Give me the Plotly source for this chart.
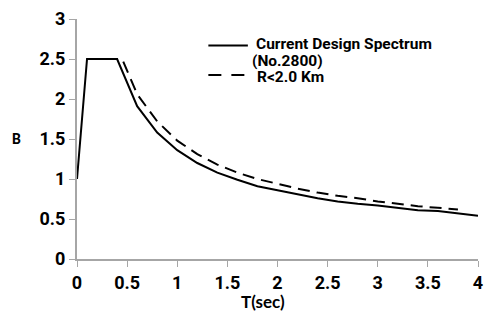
import plotly.graph_objects as go

# Current Design Spectrum (No.2800)
t_design = [0, 0.1, 0.4, 0.6, 0.8, 1.0, 1.2, 1.4, 1.6, 1.8, 2.0, 2.2, 2.4, 2.6, 2.8, 3.0, 3.2, 3.4, 3.6, 3.8, 4.0]
b_design = [1.0, 2.5, 2.5, 1.91, 1.58, 1.36, 1.20, 1.08, 0.99, 0.91, 0.86, 0.81, 0.76, 0.72, 0.69, 0.67, 0.64, 0.61, 0.60, 0.57, 0.54]

# R<2.0 Km
t_near = [0.1, 0.45, 0.6, 0.8, 1.0, 1.2, 1.4, 1.6, 1.8, 2.0, 2.2, 2.4, 2.6, 2.8, 3.0, 3.2, 3.4, 3.6, 3.8]
b_near = [2.5, 2.5, 2.06, 1.72, 1.48, 1.31, 1.18, 1.08, 1.0, 0.94, 0.88, 0.83, 0.79, 0.76, 0.72, 0.69, 0.66, 0.64, 0.62]

x_ticks = [0, 0.5, 1, 1.5, 2, 2.5, 3, 3.5, 4]
x_labels = ["0", "0.5", "1", "1.5", "2", "2.5", "3", "3.5", "4"]
y_ticks = [0, 0.5, 1, 1.5, 2, 2.5, 3]
y_labels = ["0", "0.5", "1", "1.5", "2", "2.5", "3"]

legend_names = ["Current Design Spectrum", "(No.2800)", "R<2.0 Km"]

fig = go.Figure()
fig.add_trace(go.Scatter(x=t_design, y=b_design, mode="lines",
                         name=legend_names[0] + " " + legend_names[1], showlegend=False,
                         line=dict(color="black", width=2)))
fig.add_trace(go.Scatter(x=t_near, y=b_near, mode="lines",
                         name=legend_names[2], showlegend=False,
                         line=dict(color="black", width=2, dash="12px,7px")))

axis_common = dict(showgrid=False, zeroline=False, showline=True, linecolor="#a6a6a6",
                   linewidth=2, ticks="outside", tickcolor="#a6a6a6", ticklen=6, tickwidth=1)

tick_font = dict(family="Roboto", size=18, color="black", weight=700)
fig.update_xaxes(range=[0, 4], tickvals=x_ticks, ticktext=x_labels,
                 ticklabeloverflow="allow", tickfont=tick_font, **axis_common)
fig.update_yaxes(range=[0, 3], tickvals=y_ticks, ticktext=y_labels,
                 tickfont=tick_font, **axis_common)

def px_x(p):
    return (p - 77) / 406.0

def px_y(p):
    return (259 - p) / 240.0

# axis titles
fig.add_annotation(text="B", xref="paper", yref="paper", x=px_x(16), y=px_y(139),
                   xanchor="center", yanchor="middle", showarrow=False,
                   font=dict(family="Roboto", size=14, color="black", weight=700))
fig.add_annotation(text="T(sec)", xref="paper", yref="paper", x=px_x(265), y=px_y(301),
                   xanchor="center", yanchor="middle", showarrow=False,
                   font=dict(family="Lato", size=17, color="black", weight=700))

# legend (manual, tight spacing as in reference)
leg_font = dict(family="Roboto", size=15.5, color="black", weight=700)
fig.add_shape(type="line", xref="paper", yref="paper", x0=px_x(210), x1=px_x(250),
              y0=px_y(45.5), y1=px_y(45.5), line=dict(color="black", width=2))
fig.add_shape(type="line", xref="paper", yref="paper", x0=px_x(210), x1=px_x(247),
              y0=px_y(75), y1=px_y(75), line=dict(color="black", width=2, dash="13px,10px"))
fig.add_annotation(text=legend_names[0], xref="paper", yref="paper",
                   x=px_x(256), y=px_y(44.5), xanchor="left", yanchor="middle",
                   showarrow=False, font=leg_font)
fig.add_annotation(text=legend_names[1], xref="paper", yref="paper",
                   x=px_x(252), y=px_y(60.5), xanchor="left", yanchor="middle",
                   showarrow=False, font=leg_font)
fig.add_annotation(text=legend_names[2], xref="paper", yref="paper",
                   x=px_x(257), y=px_y(76.5), xanchor="left", yanchor="middle",
                   showarrow=False, font=leg_font)

fig.update_layout(
    width=487, height=320,
    margin=dict(l=77, r=4, t=19, b=61),
    paper_bgcolor="white", plot_bgcolor="white",
    showlegend=False,
)

fig.write_html("out.html")
